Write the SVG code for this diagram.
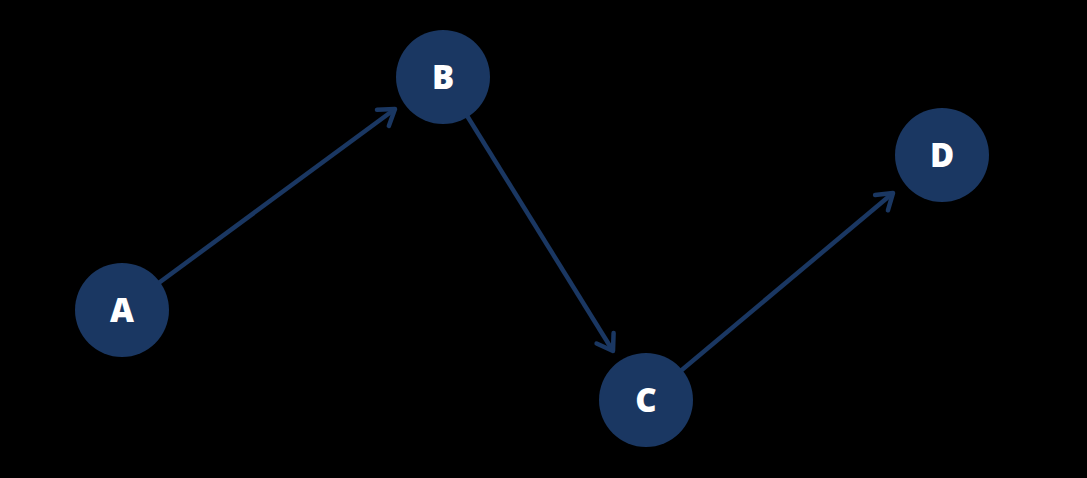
<svg xmlns="http://www.w3.org/2000/svg" width="1087" height="478" viewBox="0 0 1087 478">
  <style>
    .node circle { fill: #1a3762; }
    .node text { fill: #ffffff; font-family: "Open Sans", "DejaVu Sans", sans-serif; font-weight: 800; font-size: 33px; text-anchor: middle; dominant-baseline: central; }
    .edge { stroke: #1a3762; stroke-width: 4.5; fill: none; marker-end: url(#arrow); }
  </style>
  <defs>
    <marker id="arrow" markerUnits="userSpaceOnUse" markerWidth="30" markerHeight="30" viewBox="-20 -15 30 30" refX="0" refY="0" orient="auto">
      <path d="M-15,-10 L0,0 L-15,10" fill="none" stroke="#1a3762" stroke-width="4.5" stroke-linecap="round" stroke-linejoin="round"/>
    </marker>
  </defs>
  <rect width="1087" height="478" fill="#000000"/>
  <g id="connectors">
    <line class="edge" x1="122" y1="310" x2="395" y2="109"/>
    <line class="edge" x1="443" y1="77" x2="613" y2="351"/>
    <line class="edge" x1="646" y1="400" x2="893" y2="193"/>
  </g>
  <g id="node-A" class="node"><circle cx="122" cy="310" r="47"/><text x="122" y="309">A</text></g>
  <g id="node-B" class="node"><circle cx="443" cy="77" r="47"/><text x="443" y="76">B</text></g>
  <g id="node-C" class="node"><circle cx="646" cy="400" r="47"/><text x="646" y="399">C</text></g>
  <g id="node-D" class="node"><circle cx="942" cy="155" r="47"/><text x="942" y="154">D</text></g>
</svg>
